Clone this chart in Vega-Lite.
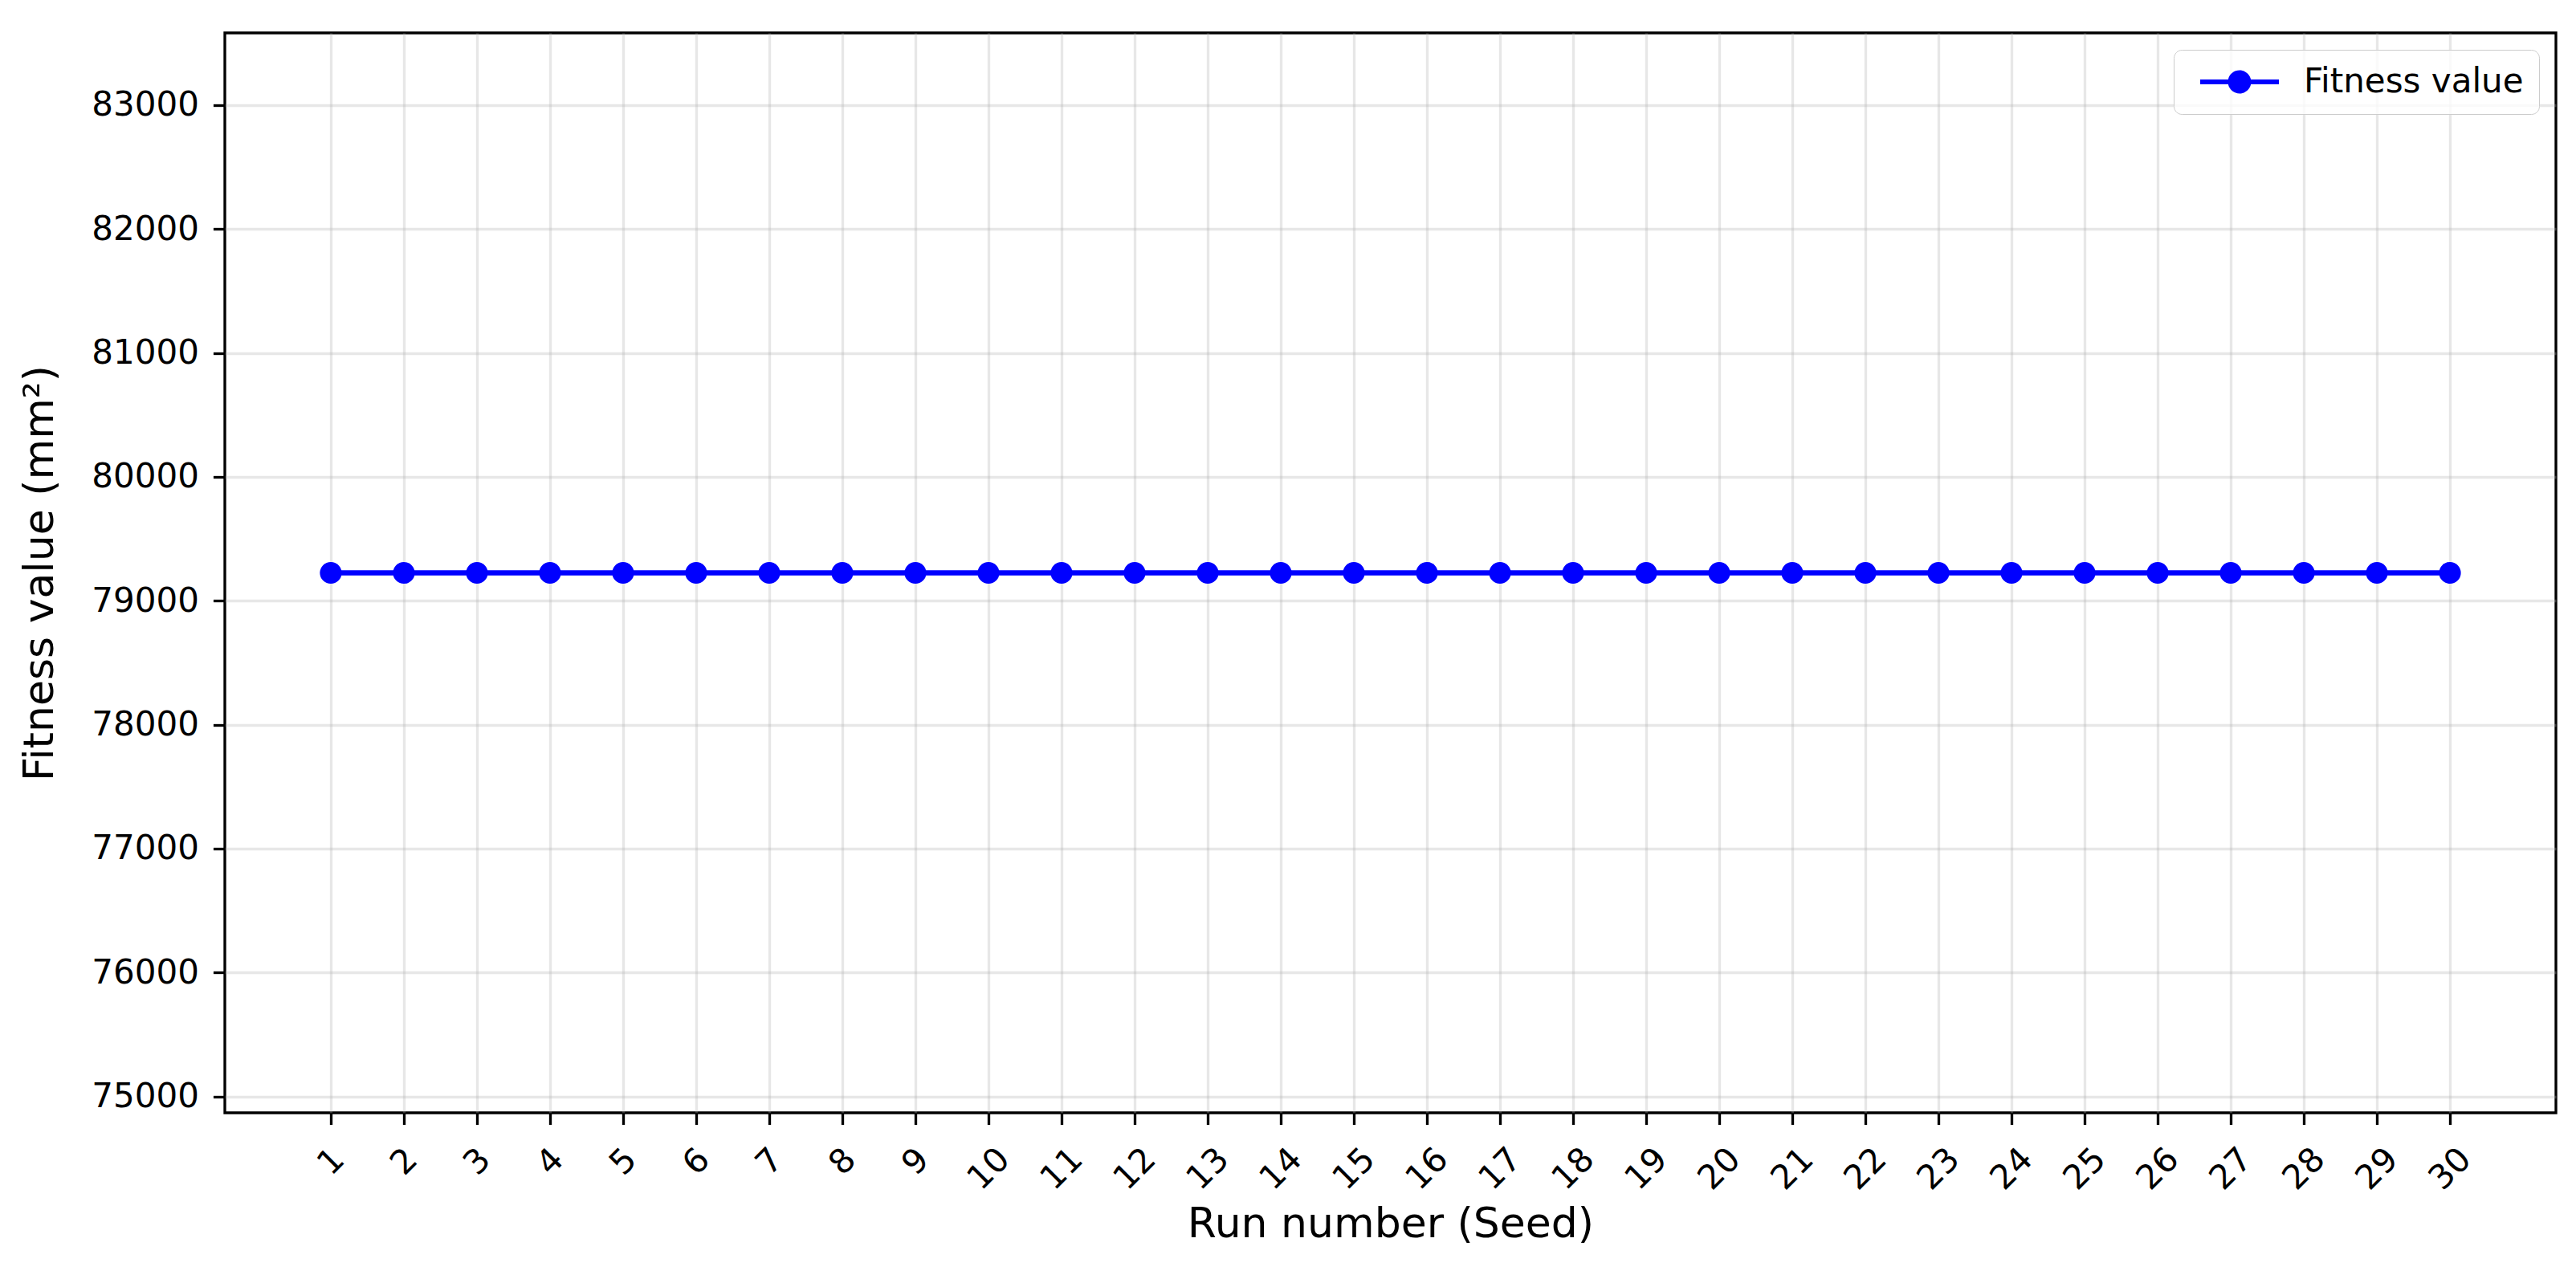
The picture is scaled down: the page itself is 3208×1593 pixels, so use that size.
{
  "$schema": "https://vega.github.io/schema/vega-lite/v6.json",
  "width": 2903,
  "height": 1345,
  "autosize": {"type": "none"},
  "padding": {"left": 280, "top": 41, "right": 25, "bottom": 207},
  "background": "white",
  "config": {
    "font": "DejaVu Sans",
    "view": {"stroke": "#000000", "strokeWidth": 3.33},
    "axis": {
      "labelFont": "DejaVu Sans",
      "titleFont": "DejaVu Sans",
      "labelFontSize": 42,
      "titleFontSize": 52,
      "titleFontWeight": "normal",
      "labelColor": "#000000",
      "titleColor": "#000000",
      "tickColor": "#000000",
      "tickWidth": 3.33,
      "tickSize": 14.6,
      "domain": false,
      "grid": true,
      "gridColor": "#b0b0b0",
      "gridOpacity": 0.3,
      "gridWidth": 3.33
    }
  },
  "data": {
    "values": [
      {"run": 1, "fitness": 79225, "series": "Fitness value"},
      {"run": 2, "fitness": 79225, "series": "Fitness value"},
      {"run": 3, "fitness": 79225, "series": "Fitness value"},
      {"run": 4, "fitness": 79225, "series": "Fitness value"},
      {"run": 5, "fitness": 79225, "series": "Fitness value"},
      {"run": 6, "fitness": 79225, "series": "Fitness value"},
      {"run": 7, "fitness": 79225, "series": "Fitness value"},
      {"run": 8, "fitness": 79225, "series": "Fitness value"},
      {"run": 9, "fitness": 79225, "series": "Fitness value"},
      {"run": 10, "fitness": 79225, "series": "Fitness value"},
      {"run": 11, "fitness": 79225, "series": "Fitness value"},
      {"run": 12, "fitness": 79225, "series": "Fitness value"},
      {"run": 13, "fitness": 79225, "series": "Fitness value"},
      {"run": 14, "fitness": 79225, "series": "Fitness value"},
      {"run": 15, "fitness": 79225, "series": "Fitness value"},
      {"run": 16, "fitness": 79225, "series": "Fitness value"},
      {"run": 17, "fitness": 79225, "series": "Fitness value"},
      {"run": 18, "fitness": 79225, "series": "Fitness value"},
      {"run": 19, "fitness": 79225, "series": "Fitness value"},
      {"run": 20, "fitness": 79225, "series": "Fitness value"},
      {"run": 21, "fitness": 79225, "series": "Fitness value"},
      {"run": 22, "fitness": 79225, "series": "Fitness value"},
      {"run": 23, "fitness": 79225, "series": "Fitness value"},
      {"run": 24, "fitness": 79225, "series": "Fitness value"},
      {"run": 25, "fitness": 79225, "series": "Fitness value"},
      {"run": 26, "fitness": 79225, "series": "Fitness value"},
      {"run": 27, "fitness": 79225, "series": "Fitness value"},
      {"run": 28, "fitness": 79225, "series": "Fitness value"},
      {"run": 29, "fitness": 79225, "series": "Fitness value"},
      {"run": 30, "fitness": 79225, "series": "Fitness value"}
    ]
  },
  "encoding": {
    "x": {
      "field": "run",
      "type": "quantitative",
      "scale": {"domain": [-0.45, 31.45], "nice": false, "zero": false},
      "axis": {
        "values": [1,2,3,4,5,6,7,8,9,10,11,12,13,14,15,16,17,18,19,20,21,22,23,24,25,26,27,28,29,30],
        "format": "d",
        "title": "Run number (Seed)",
        "labelAngle": -45,
        "labelAlign": "center",
        "labelBaseline": "middle",
        "labelPadding": {"condition": {"test": "datum.value < 10", "value": 46}, "value": 55},
        "labelOverlap": false,
        "labelFlush": false,
        "titlePadding": 10
      }
    },
    "y": {
      "field": "fitness",
      "type": "quantitative",
      "scale": {"domain": [74867.6, 83582.4], "nice": false, "zero": false},
      "axis": {
        "values": [75000, 76000, 77000, 78000, 79000, 80000, 81000, 82000, 83000],
        "format": "d",
        "title": "Fitness value (mm²)",
        "labelPadding": 18,
        "titlePadding": 37
      }
    }
  },
  "layer": [
    {
      "mark": {"type": "line", "color": "#0000ff", "strokeWidth": 6.5}
    },
    {
      "mark": {"type": "point", "filled": true, "opacity": 1, "size": 740, "shape": "circle", "strokeWidth": 0},
      "encoding": {
        "color": {
          "field": "series",
          "type": "nominal",
          "scale": {"range": ["#0000ff"]},
          "legend": {
            "title": null,
            "orient": "top-right",
            "offset": 21,
            "symbolType": "M-1,-0.443L3.977,-0.443A2.071,2.071,0,0,1,8.023,-0.443L13,-0.443L13,0.443L8.023,0.443A2.071,2.071,0,0,1,3.977,0.443L-1,0.443Z",
            "symbolSize": 196,
            "symbolStrokeWidth": 0,
            "labelOffset": 101,
            "labelFontSize": 42,
            "labelFont": "DejaVu Sans",
            "labelColor": "#000000",
            "labelLimit": 800,
            "padding": 19,
            "fillColor": "rgba(255,255,255,0.8)",
            "strokeColor": "#cccccc",
            "cornerRadius": 10,
            "encode": {
              "legend": {
                "update": {
                  "strokeWidth": {"value": 3.33}
                }
              },
              "symbols": {
                "update": {
                  "fill": {"value": "#0000ff"},
                  "stroke": {"value": "transparent"},
                  "opacity": {"value": 1}
                }
              }
            }
          }
        }
      }
    }
  ]
}
